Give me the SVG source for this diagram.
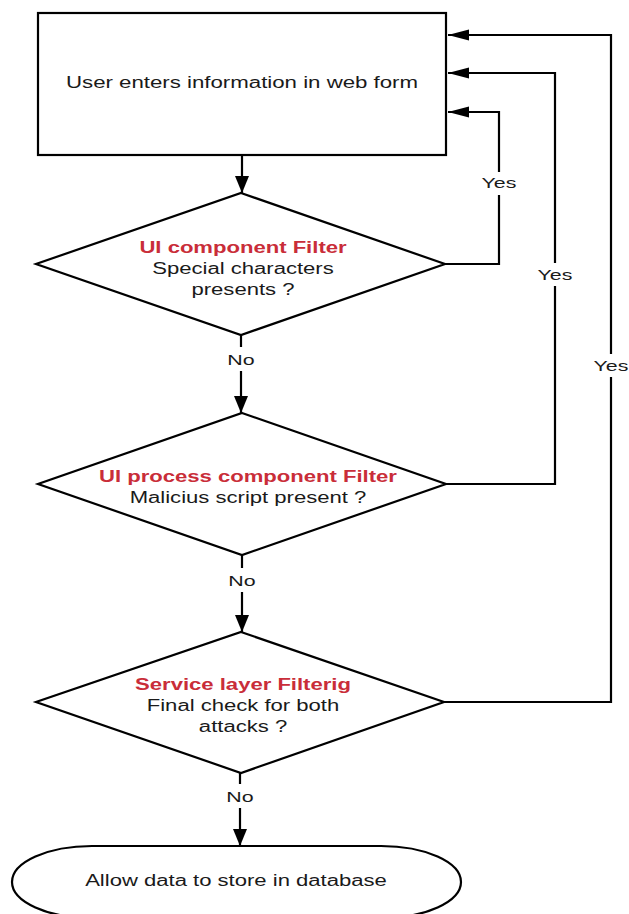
<svg xmlns="http://www.w3.org/2000/svg" width="629" height="914" viewBox="0 0 629 914">
  <style>
    .shape { fill: #ffffff; stroke: #000000; stroke-width: 2.2; }
    .link { fill: none; stroke: #000000; stroke-width: 2.2; }
    .txt { font-family: "Liberation Sans", Arial, sans-serif; font-size: 16px; fill: #1a1a1a; text-anchor: middle; }
    .head { font-weight: bold; fill: #c92d39; }
    .lbl { font-family: "Liberation Sans", Arial, sans-serif; font-size: 15.5px; fill: #1a1a1a; text-anchor: middle; }
    .bg { fill: #ffffff; stroke: none; }
  </style>
  <defs>
    <marker id="arrow-v" markerUnits="userSpaceOnUse" markerWidth="18" markerHeight="14" refX="17" refY="7" orient="auto">
      <path d="M0,0 L17,7 L0,14 Z" fill="#000000"/>
    </marker>
    <marker id="arrow-h" markerUnits="userSpaceOnUse" markerWidth="22" markerHeight="12" refX="21" refY="5.5" orient="auto">
      <path d="M0,0 L21,5.5 L0,11 Z" fill="#000000"/>
    </marker>
  </defs>

  <!-- connectors -->
  <g id="connectors">
    <path class="link" d="M242,155 V193" marker-end="url(#arrow-v)"/>
    <path class="link" d="M241,335 V413" marker-end="url(#arrow-v)"/>
    <path class="link" d="M242,555 V632" marker-end="url(#arrow-v)"/>
    <path class="link" d="M240,773 V846" marker-end="url(#arrow-v)"/>
    <path class="link" d="M444,264 H499 V112 H448" marker-end="url(#arrow-h)"/>
    <path class="link" d="M446,484 H555 V73 H448" marker-end="url(#arrow-h)"/>
    <path class="link" d="M444,702 H611 V35 H448" marker-end="url(#arrow-h)"/>

    <rect class="bg" x="478" y="172" width="42" height="23"/>
    <text class="lbl" transform="translate(499,188) scale(1.38,1)">Yes</text>
    <rect class="bg" x="534" y="263" width="42" height="23"/>
    <text class="lbl" transform="translate(555,280) scale(1.38,1)">Yes</text>
    <rect class="bg" x="590" y="354" width="42" height="23"/>
    <text class="lbl" transform="translate(611,371) scale(1.38,1)">Yes</text>

    <rect class="bg" x="225" y="347" width="32" height="24"/>
    <text class="lbl" transform="translate(241,365) scale(1.38,1)">No</text>
    <rect class="bg" x="226" y="568" width="32" height="24"/>
    <text class="lbl" transform="translate(242,586) scale(1.38,1)">No</text>
    <rect class="bg" x="224" y="784" width="32" height="24"/>
    <text class="lbl" transform="translate(240,802) scale(1.38,1)">No</text>
  </g>

  <!-- start: web form entry -->
  <g id="node-entry">
    <rect class="shape" x="38" y="13" width="408" height="142"/>
    <text class="txt" transform="translate(242,88) scale(1.39,1)">User enters information in web form</text>
  </g>

  <!-- decision: UI component filter -->
  <g id="node-ui-filter">
    <polygon class="shape" points="241,193 445,264 241,335 36,264"/>
    <text class="txt head" transform="translate(243,253) scale(1.38,1)">UI component Filter</text>
    <text class="txt" transform="translate(243,274) scale(1.38,1)">Special characters</text>
    <text class="txt" transform="translate(243,295) scale(1.38,1)">presents ?</text>
  </g>

  <!-- decision: UI process component filter -->
  <g id="node-process-filter">
    <polygon class="shape" points="242,413 446,484 242,555 38,484"/>
    <text class="txt head" transform="translate(248,482) scale(1.38,1)">UI process component Filter</text>
    <text class="txt" transform="translate(248,503) scale(1.38,1)">Malicius script present ?</text>
  </g>

  <!-- decision: service layer filter -->
  <g id="node-service-filter">
    <polygon class="shape" points="241,632 444,702 241,773 36,702"/>
    <text class="txt head" transform="translate(243,690) scale(1.38,1)">Service layer Filterig</text>
    <text class="txt" transform="translate(243,711) scale(1.38,1)">Final check for both</text>
    <text class="txt" transform="translate(243,732) scale(1.38,1)">attacks ?</text>
  </g>

  <!-- end: store data -->
  <g id="node-store">
    <path class="shape" d="M92,846 H381 A80,36 0 0 1 461,882 A80,36 0 0 1 381,918 H92 A80,36 0 0 1 12,882 A80,36 0 0 1 92,846 Z"/>
    <text class="txt" transform="translate(236,886) scale(1.38,1)">Allow data to store in database</text>
  </g>
</svg>
